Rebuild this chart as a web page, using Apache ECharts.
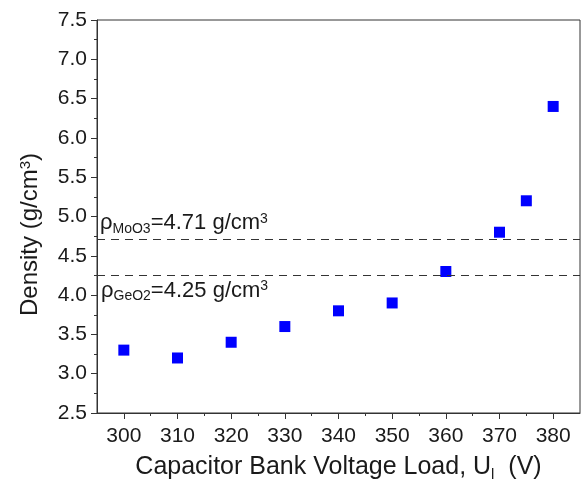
<!DOCTYPE html>
<html>
<head>
<meta charset="utf-8">
<script src="https://cdn.jsdelivr.net/npm/echarts@6/dist/echarts.min.js"></script>
<style>
  html, body { margin: 0; padding: 0; background: #fff; }
  #chart { width: 582px; height: 487px; }
</style>
</head>
<body>
<div id="chart"></div>
<script>
// Measured density against capacitor bank voltage load
const voltages = [300, 310, 320, 330, 340, 350, 360, 370, 375, 380];
const densities = [3.3, 3.2, 3.4, 3.6, 3.8, 3.9, 4.3, 4.8, 5.2, 6.4];

// Reference bulk densities (g/cm3)
const rhoMoO3 = 4.71;
const rhoGeO2 = 4.25;

// Axis ranges and tick positions
const xMin = 295, xMax = 385;
const xMajorTicks = [300, 310, 320, 330, 340, 350, 360, 370, 380];
const xMinorTicks = [305, 315, 325, 335, 345, 355, 365, 375];
const yMin = 2.5, yMax = 7.5, yStep = 0.5;

const FONT = '"Liberation Sans", Arial, Helvetica, sans-serif';
const INK = '#1a1a1a';

const chart = echarts.init(document.getElementById('chart'), null, { renderer: 'canvas' });

// Rich-text pieces for chemical subscripts and unit superscripts
function richSet(size, small) {
  return {
    m: { fontFamily: FONT, fontSize: size, color: INK, lineHeight: size + 2, verticalAlign: 'top' },
    sub: { fontFamily: FONT, fontSize: small, color: INK, lineHeight: 4, verticalAlign: 'bottom' },
    sup: { fontFamily: FONT, fontSize: small, color: INK, lineHeight: 4, verticalAlign: 'top' }
  };
}
const xTitleRich = richSet(25, 15);
const yTitleRich = richSet(24, 15);
const noteRich = richSet(22, 14);

const option = {
  animation: false,
  backgroundColor: '#fff',
  grid: {
    left: 97, right: 2, top: 20, bottom: 74,
    show: true, borderColor: '#333', borderWidth: 1
  },
  xAxis: [
    {
      type: 'value', min: xMin, max: xMax,
      axisLine: { show: true, lineStyle: { color: '#333', width: 1 } },
      axisTick: { show: true, customValues: xMajorTicks, length: 6, inside: false,
                  lineStyle: { color: '#333' } },
      axisLabel: { customValues: xMajorTicks, fontFamily: FONT, fontSize: 21, color: INK, margin: 13 },
      splitLine: { show: false },
      name: '{m|Capacitor Bank Voltage Load, U}{sub|l}{m|  (V)}',
      nameLocation: 'middle', nameGap: 42,
      nameTextStyle: { rich: xTitleRich }
    },
    {
      type: 'value', min: xMin, max: xMax, position: 'bottom',
      axisLine: { show: false },
      axisTick: { show: true, customValues: xMinorTicks, length: 3,
                  lineStyle: { color: '#333' } },
      axisLabel: { show: false },
      splitLine: { show: false }
    }
  ],
  yAxis: {
    type: 'value', min: yMin, max: yMax, interval: yStep,
    axisLine: { show: true, lineStyle: { color: '#333', width: 1 } },
    axisTick: { show: true, length: 6, lineStyle: { color: '#333' } },
    minorTick: { show: true, splitNumber: 2, length: 3, lineStyle: { color: '#333' } },
    axisLabel: { fontFamily: FONT, fontSize: 21, color: INK, margin: 10,
                 formatter: v => v.toFixed(1) },
    splitLine: { show: false },
    name: '{m|Density (g/cm}{sup|3}{m|)}',
    nameLocation: 'middle', nameGap: 53,
    nameTextStyle: { rich: yTitleRich, padding: [0, 36, 0, 0] }
  },
  series: [
    {
      type: 'scatter',
      xAxisIndex: 0,
      data: voltages.map((v, i) => [v, densities[i]]),
      symbol: 'rect',
      symbolSize: 11,
      itemStyle: { color: '#0000ff', opacity: 1 },
      markLine: {
        silent: true,
        symbol: ['none', 'none'],
        lineStyle: { color: '#333', width: 1, type: [8, 6] },
        data: [
          {
            yAxis: rhoMoO3,
            label: {
              show: true, position: 'insideStartTop', distance: 3,
              formatter: '{m|ρ}{sub|MoO}{sub|3}{m|=' + rhoMoO3 + ' g/cm}{sup|3}',
              rich: noteRich
            }
          },
          {
            yAxis: rhoGeO2,
            label: {
              show: true, position: 'insideStartBottom', distance: 4,
              formatter: '{m|ρ}{sub|GeO}{sub|2}{m|=' + rhoGeO2 + ' g/cm}{sup|3}',
              rich: noteRich
            }
          }
        ]
      }
    }
  ]
};

chart.setOption(option);
</script>
</body>
</html>
